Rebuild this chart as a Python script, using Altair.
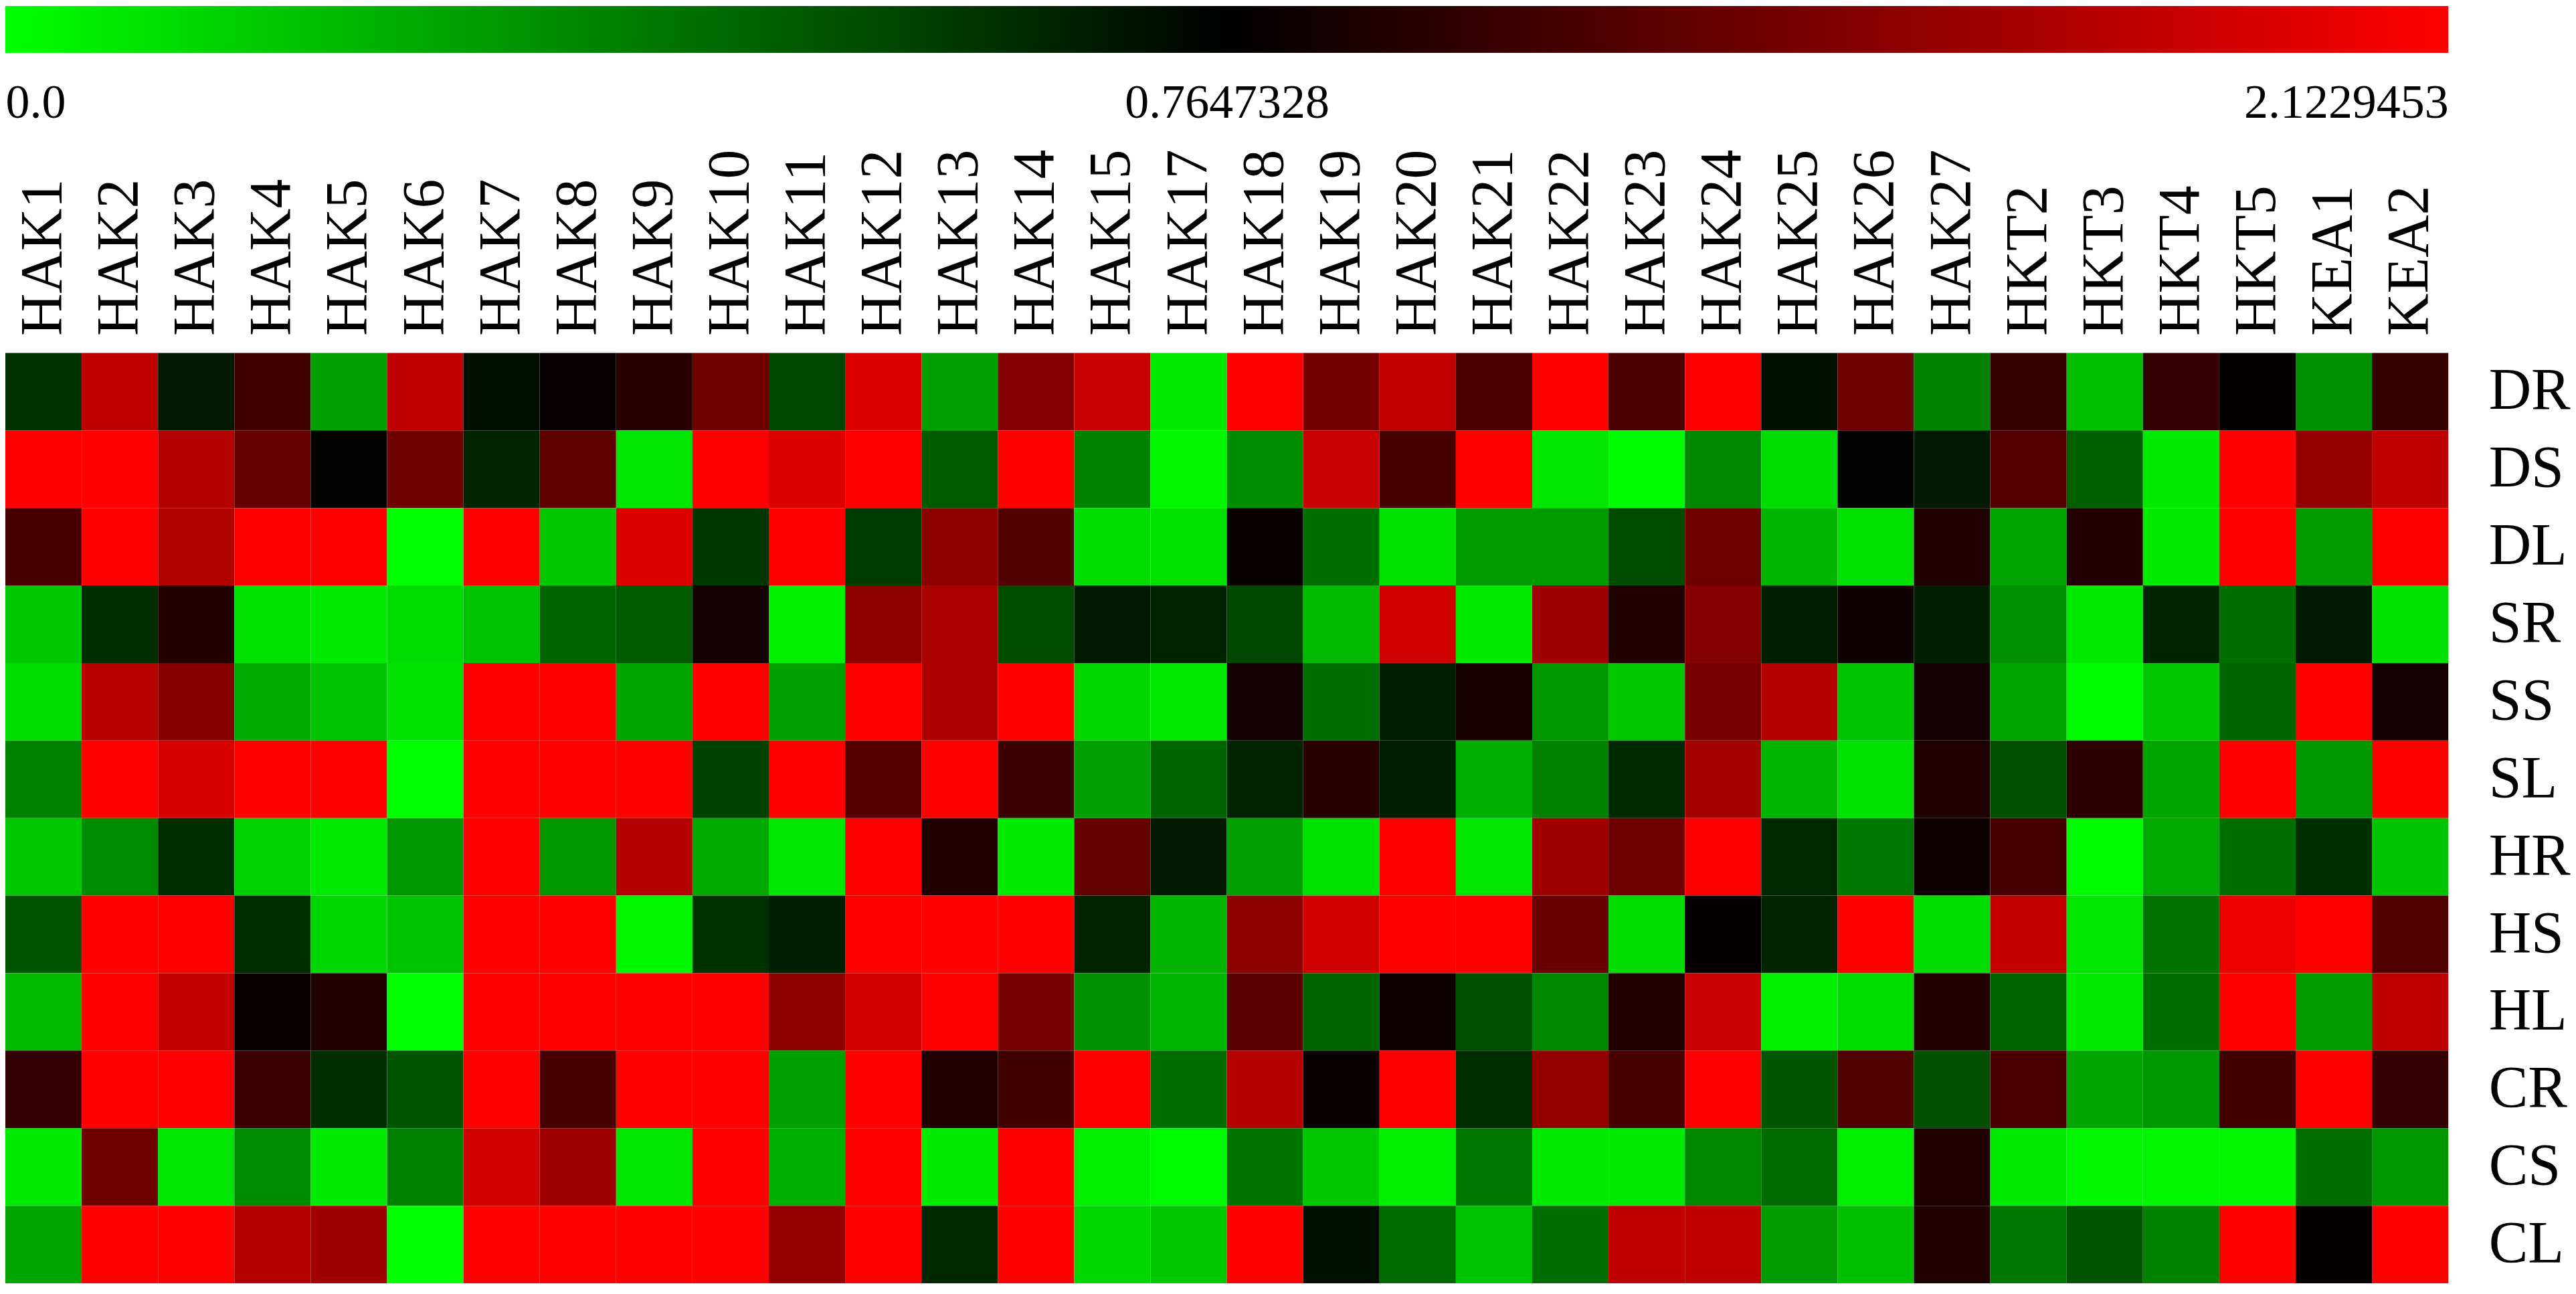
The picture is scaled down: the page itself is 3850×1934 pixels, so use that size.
import altair as alt
import pandas as pd

genes = ["HAK1", "HAK2", "HAK3", "HAK4", "HAK5", "HAK6", "HAK7", "HAK8", "HAK9", "HAK10",
         "HAK11", "HAK12", "HAK13", "HAK14", "HAK15", "HAK17", "HAK18", "HAK19", "HAK20",
         "HAK21", "HAK22", "HAK23", "HAK24", "HAK25", "HAK26", "HAK27", "HKT2", "HKT3",
         "HKT4", "HKT5", "KEA1", "KEA2"]
tissues = ["DR", "DS", "DL", "SR", "SS", "SL", "HR", "HS", "HL", "CR", "CS", "CL"]

DR = [0.615, 1.78, 0.69, 1.11, 0.285, 1.78, 0.72, 0.81, 0.98, 1.35, 0.555, 1.94, 0.285, 1.46, 1.83, 0.06,
      2.12, 1.38, 1.80, 1.16, 2.12, 1.16, 2.12, 0.72, 1.35, 0.375, 1.06, 0.195, 1.03, 0.78, 0.33, 1.06]
DS = [2.12, 2.12, 1.72, 1.30, 0.76, 1.35, 0.66, 1.27, 0.075, 2.12, 1.94, 2.12, 0.495, 2.12, 0.375, 0.03,
      0.345, 1.83, 1.14, 2.12, 0.075, 0.015, 0.36, 0.105, 0.76, 0.69, 1.22, 0.48, 0.06, 2.12, 1.54, 1.78]
DL = [1.14, 2.12, 1.70, 2.12, 2.12, 0.0, 2.12, 0.165, 1.94, 0.60, 2.12, 0.585, 1.51, 1.19, 0.105, 0.09,
      0.82, 0.435, 0.09, 0.30, 0.30, 0.54, 1.35, 0.225, 0.09, 0.925, 0.27, 0.95, 0.06, 2.12, 0.30, 2.12]
SR = [0.165, 0.63, 0.95, 0.09, 0.06, 0.105, 0.18, 0.465, 0.495, 0.87, 0.045, 1.51, 1.67, 0.54, 0.69, 0.66,
      0.555, 0.21, 1.86, 0.06, 1.62, 0.925, 1.46, 0.675, 0.845, 0.675, 0.33, 0.06, 0.66, 0.435, 0.69, 0.09]
SS = [0.105, 1.75, 1.48, 0.255, 0.18, 0.09, 2.12, 2.12, 0.27, 2.12, 0.285, 2.12, 1.67, 2.12, 0.12, 0.06,
      0.87, 0.435, 0.675, 0.90, 0.315, 0.165, 1.40, 1.72, 0.18, 0.87, 0.27, 0.015, 0.165, 0.465, 2.12, 0.87]
SL = [0.375, 2.12, 1.91, 2.12, 2.12, 0.0, 2.12, 2.12, 2.12, 0.57, 2.12, 1.22, 2.12, 1.08, 0.285, 0.465,
      0.66, 0.98, 0.675, 0.24, 0.375, 0.645, 1.64, 0.225, 0.09, 0.925, 0.525, 1.00, 0.27, 2.12, 0.315, 2.12]
HR = [0.165, 0.345, 0.63, 0.135, 0.06, 0.315, 2.12, 0.315, 1.72, 0.255, 0.075, 2.12, 0.925, 0.06, 1.30, 0.69,
      0.285, 0.09, 2.12, 0.075, 1.62, 1.35, 2.12, 0.645, 0.405, 0.845, 1.14, 0.015, 0.255, 0.435, 0.63, 0.18]
HS = [0.51, 2.12, 2.12, 0.63, 0.12, 0.18, 2.12, 2.12, 0.03, 0.615, 0.675, 2.12, 2.12, 2.12, 0.66, 0.225,
      1.51, 1.86, 2.12, 2.12, 1.32, 0.105, 0.79, 0.66, 2.12, 0.105, 1.80, 0.075, 0.42, 2.02, 2.12, 1.19]
HL = [0.21, 2.12, 1.80, 0.82, 0.95, 0.0, 2.12, 2.12, 2.12, 2.12, 1.51, 1.88, 2.12, 1.40, 0.33, 0.225,
      1.24, 0.465, 0.845, 0.525, 0.36, 0.925, 1.83, 0.045, 0.105, 0.95, 0.465, 0.06, 0.435, 2.12, 0.30, 1.78]
CR = [1.03, 2.12, 2.12, 1.08, 0.63, 0.51, 2.12, 1.14, 2.12, 2.12, 0.285, 2.12, 0.925, 1.11, 2.12, 0.435,
      1.72, 0.82, 2.12, 0.63, 1.54, 1.14, 2.12, 0.51, 1.19, 0.525, 1.16, 0.27, 0.315, 1.11, 2.12, 1.03]
CS = [0.06, 1.35, 0.075, 0.345, 0.06, 0.375, 1.88, 1.62, 0.075, 2.12, 0.24, 2.12, 0.06, 2.12, 0.045, 0.015,
      0.42, 0.165, 0.045, 0.405, 0.06, 0.06, 0.36, 0.45, 0.045, 0.925, 0.06, 0.03, 0.03, 0.03, 0.435, 0.315]
CL = [0.27, 2.12, 2.12, 1.72, 1.62, 0.0, 2.12, 2.12, 2.12, 2.12, 1.54, 2.12, 0.645, 2.12, 0.12, 0.165,
      2.12, 0.72, 0.45, 0.18, 0.435, 1.78, 1.78, 0.30, 0.195, 0.925, 0.405, 0.51, 0.375, 2.12, 0.79, 2.12]

matrix = [DR, DS, DL, SR, SS, SL, HR, HS, HL, CR, CS, CL]

scale_min, scale_mid, scale_max = 0.0, 0.7647328, 2.1229453
scale_stops = [scale_min, scale_mid, scale_max]
scale_colors = ["#00ff00", "#000000", "#ff0000"]

records = []
for t, row in zip(tissues, matrix):
    for g, v in zip(genes, row):
        records.append({"gene": g, "tissue": t, "value": v})
df = pd.DataFrame(records)

W = 3655
FONT = "Liberation Serif"

color_scale = alt.Scale(domain=scale_stops, range=scale_colors, interpolate="rgb", clamp=True)

heat = alt.Chart(df).mark_rect().encode(
    x=alt.X("gene:N", sort=genes, title=None,
            axis=alt.Axis(orient="top", labelAngle=-90, ticks=False, domain=False,
                          labelFont=FONT, labelFontSize=88, labelPadding=26,
                          labelLimit=0, labelColor="black")),
    y=alt.Y("tissue:N", sort=tissues, title=None,
            axis=alt.Axis(orient="right", ticks=False, domain=False,
                          labelFont=FONT, labelFontSize=88, labelPadding=60,
                          labelLimit=0, labelColor="black")),
    color=alt.Color("value:Q", scale=color_scale, legend=None),
).properties(width=W, height=1392)

cb_df = pd.DataFrame({"start": [scale_min], "end": [scale_max]})
gradient = alt.Gradient(
    gradient="linear",
    stops=[alt.GradientStop(color=scale_colors[0], offset=0),
           alt.GradientStop(color=scale_colors[1], offset=0.5),
           alt.GradientStop(color=scale_colors[2], offset=1)],
    x1=0, x2=1, y1=0, y2=0,
)
colorbar = alt.Chart(cb_df).mark_rect(color=gradient).encode(
    x=alt.X("start:Q", title=None,
            scale=alt.Scale(domain=scale_stops, range=[0, W / 2, W]),
            axis=alt.Axis(values=scale_stops, grid=False, ticks=False, domain=False,
                          labelFlush=True, labelFont=FONT, labelFontSize=72,
                          labelPadding=40, labelLimit=0, labelColor="black",
                          labelExpr="datum.value == 0 ? '0.0' : format(datum.value, '.7f')")),
    x2="end:Q",
).properties(width=W, height=70)

chart = alt.vconcat(colorbar, heat, spacing=33).properties(
    padding=0, background="white"
).configure_view(stroke=None)

chart.save("out.html", embed_options={"renderer": "svg", "actions": False})
